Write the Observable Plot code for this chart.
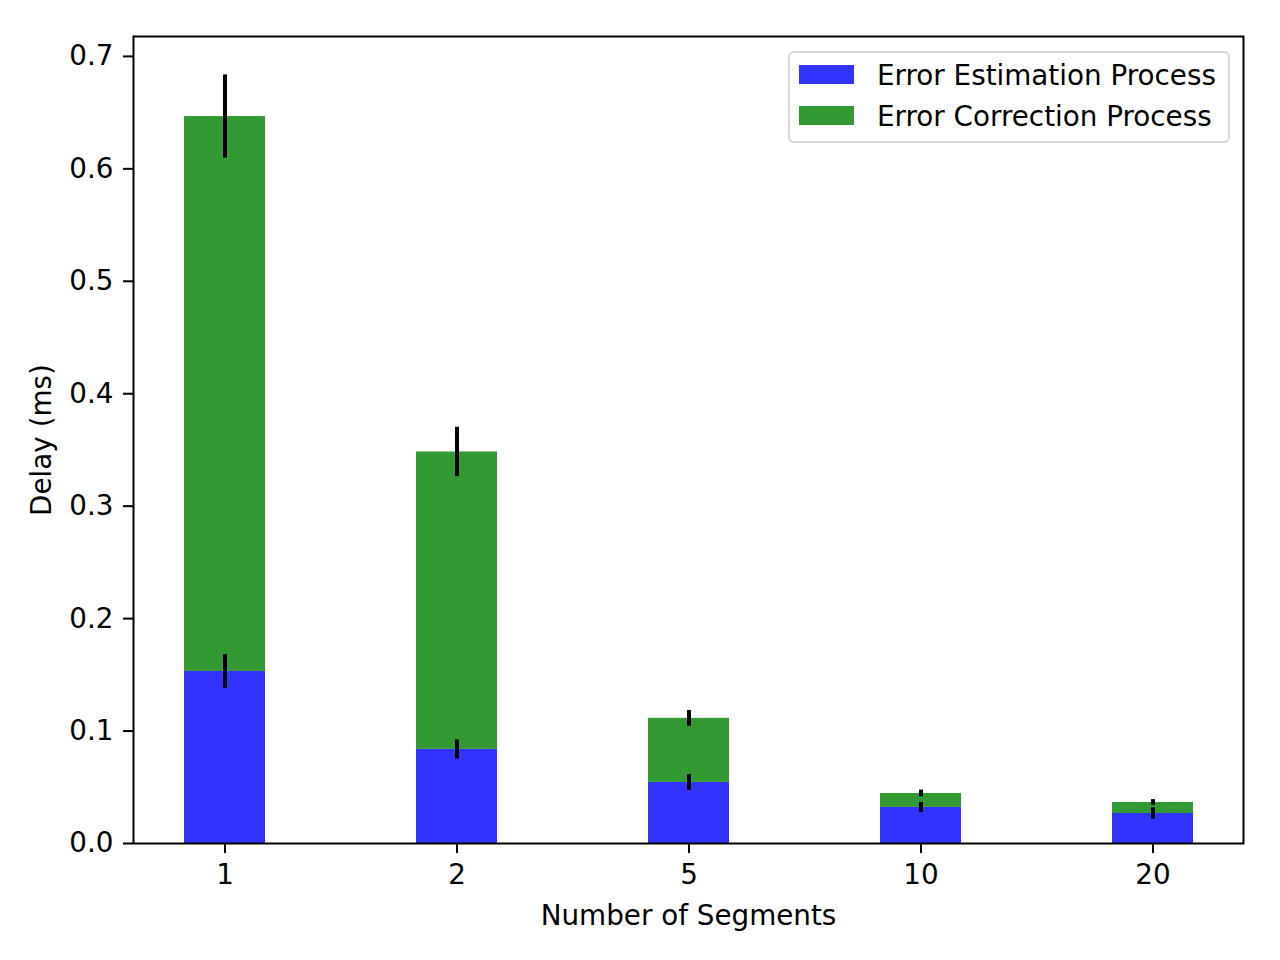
<!DOCTYPE html>
<html><head><meta charset="utf-8">
<script src="https://cdn.jsdelivr.net/npm/d3@7"></script>
<script src="https://cdn.jsdelivr.net/npm/@observablehq/plot@0.6"></script>
<style>
body{margin:0;background:#fff;font-family:"DejaVu Sans",sans-serif;}
#wrap{position:relative;width:1280px;height:960px;}
.legend{position:absolute;left:788px;top:51px;width:438px;height:88px;border:2px solid #d6d6d6;border-radius:6px;background:rgba(255,255,255,0.8);font-size:27.8px;color:#000;}
.item{position:absolute;left:0;height:30px;}
.sw{position:absolute;left:9px;width:55px;height:19px;}
.lab{position:absolute;left:87px;white-space:nowrap;line-height:1;}
</style></head>
<body>
<div id="wrap"></div>
<script>
const segments = ["1", "2", "5", "10", "20"];
const processes = ["Error Estimation Process", "Error Correction Process"];
const colors = ["#3333ff", "#339933"];
const estimation = [0.153, 0.0837, 0.0543, 0.0321, 0.0267];
const correction = [0.4935, 0.2645, 0.057, 0.0124, 0.0098];
const estimationErr = [0.015, 0.0085, 0.007, 0.0045, 0.005];
const correctionErr = [0.037, 0.022, 0.007, 0.003, 0.0025];
const yTicks = [0, 0.1, 0.2, 0.3, 0.4, 0.5, 0.6, 0.7];
const yMax = 0.7177;

const rows = [];
const errs = [];
segments.forEach((s, i) => {
  rows.push({seg: s, process: processes[0], value: estimation[i]});
  rows.push({seg: s, process: processes[1], value: correction[i]});
  const c1 = estimation[i], c2 = estimation[i] + correction[i];
  errs.push({seg: s, lo: c1 - estimationErr[i], hi: c1 + estimationErr[i]});
  errs.push({seg: s, lo: c2 - correctionErr[i], hi: c2 + correctionErr[i]});
});

const chart = Plot.plot({
  width: 1280, height: 960,
  marginLeft: 133, marginRight: 37, marginTop: 36, marginBottom: 117,
  style: {fontFamily: "DejaVu Sans", fontSize: "27.8px", background: "white", color: "black"},
  x: {domain: segments, paddingInner: 0.651, paddingOuter: 0.21},
  y: {domain: [0, yMax]},
  color: {domain: processes, range: colors},
  marks: [
    Plot.barY(rows, {x: "seg", y: "value", fill: "process"}),
    Plot.ruleX(errs, {x: "seg", y1: "lo", y2: "hi", stroke: "black", strokeWidth: 4}),
    Plot.frame({stroke: "black", strokeWidth: 2}),
    Plot.axisX({tickSize: 10, tickPadding: 11, strokeWidth: 2, label: "Number of Segments", labelAnchor: "center", labelOffset: 81, labelArrow: "none"}),
    Plot.axisY({ticks: yTicks, tickFormat: d3.format(".1f"), tickSize: 10, tickPadding: 10, strokeWidth: 2, label: "Delay (ms)", labelAnchor: "center", labelOffset: 102, labelArrow: "none"})
  ]
});
const wrap = document.getElementById("wrap");
wrap.appendChild(chart);

const leg = document.createElement("div");
leg.className = "legend";
processes.forEach((p, i) => {
  const it = document.createElement("div");
  it.className = "item";
  it.style.top = (12 + i * 41) + "px";
  const sw = document.createElement("div");
  sw.className = "sw";
  sw.style.background = colors[i];
  sw.style.top = "0px";
  const lb = document.createElement("div");
  lb.className = "lab";
  lb.style.top = "-3px";
  lb.textContent = p;
  it.appendChild(sw); it.appendChild(lb);
  leg.appendChild(it);
});
wrap.appendChild(leg);
</script>
</body></html>
